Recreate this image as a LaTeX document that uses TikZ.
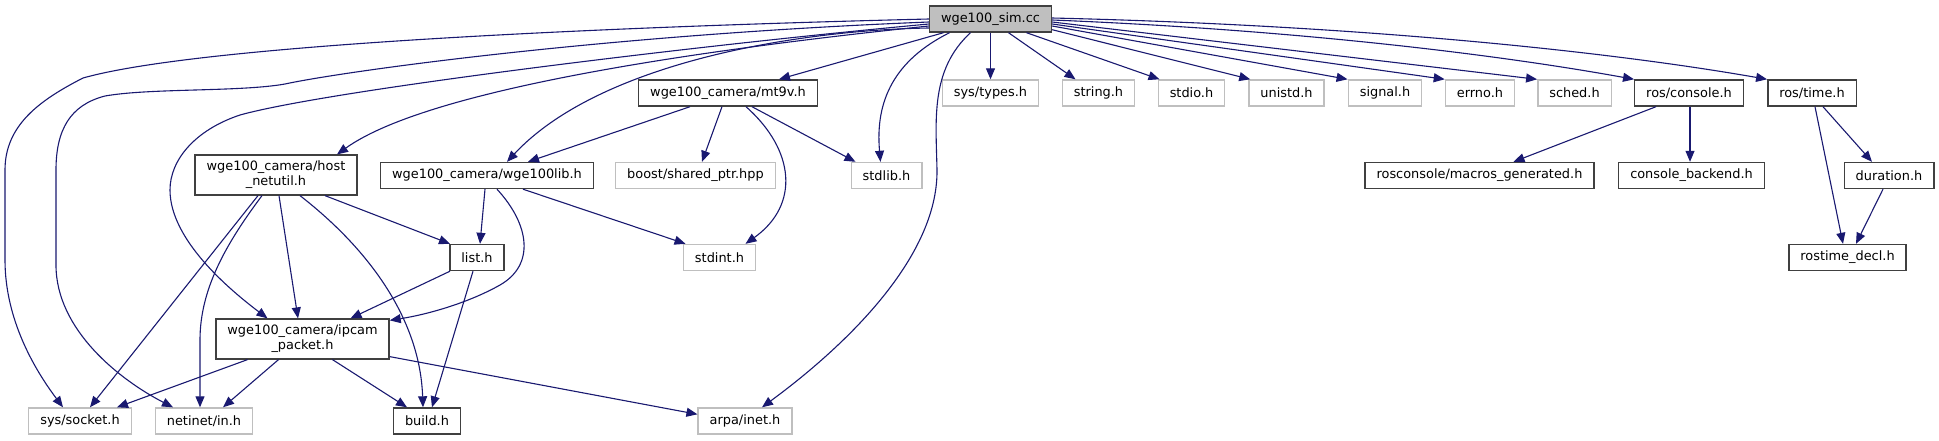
\documentclass[tikz,border=0pt]{standalone}
\usepackage{fontspec}
\setmainfont{DejaVu Sans}
\usetikzlibrary{arrows.meta}
\definecolor{edgeblue}{HTML}{191970}
\definecolor{boxgray}{HTML}{BFBFBF}
\definecolor{boxdark}{HTML}{404040}
\begin{document}
\begin{tikzpicture}[x=1pt,y=-1pt,
        every node/.style={font=\fontsize{12.9}{15}\selectfont,inner xsep=11.5pt,inner ysep=6pt,minimum height=26pt,line width=1.4pt},
        hdr/.style={draw=boxdark},
        ext/.style={draw=boxgray},
        edge/.style={edgeblue,line width=1.1pt,-{Triangle[length=11pt,width=9pt]}}]
        \useasboundingbox (0,0) rectangle (1939,440);
        % files
        \node[hdr,fill=boxgray] (sim) at (990.5,19) {wge100\_sim.cc};
        \node[hdr] (mtnine) at (728,93) {wge100\_camera/mt9v.h};
        \node[ext] (systypes) at (990.5,93) {sys/types.h};
        \node[ext] (string) at (1098.5,93) {string.h};
        \node[ext] (stdio) at (1191.5,93) {stdio.h};
        \node[ext] (unistd) at (1286.5,93) {unistd.h};
        \node[ext] (signal) at (1385,93) {signal.h};
        \node[ext] (errno) at (1480,93) {errno.h};
        \node[ext] (sched) at (1574.5,93) {sched.h};
        \node[hdr] (console) at (1689,93) {ros/console.h};
        \node[hdr] (time) at (1812,93) {ros/time.h};
        \node[hdr,align=center] (netutil) at (276,175) {wge100\_camera/host\\\_netutil.h};
        \node[hdr] (wgelib) at (487,175.5) {wge100\_camera/wge100lib.h};
        \node[ext] (sharedptr) at (695.5,175.5) {boost/shared\_ptr.hpp};
        \node[ext] (stdlib) at (886.5,175.5) {stdlib.h};
        \node[hdr] (macros) at (1479.5,175.5) {rosconsole/macros\_generated.h};
        \node[hdr] (backend) at (1691.5,175.5) {console\_backend.h};
        \node[hdr] (duration) at (1889,175.5) {duration.h};
        \node[hdr] (list) at (477,257.5) {list.h};
        \node[ext] (stdint) at (719.5,257.5) {stdint.h};
        \node[hdr] (decl) at (1847.5,257.5) {rostime\_decl.h};
        \node[hdr,align=center] (ipcam) at (302.5,339) {wge100\_camera/ipcam\\\_packet.h};
        \node[ext] (socket) at (80,421) {sys/socket.h};
        \node[ext] (netinet) at (204,421) {netinet/in.h};
        \node[hdr] (build) at (427,421) {build.h};
        \node[ext] (arpa) at (745,421) {arpa/inet.h};
        % wge100_sim.cc
        \draw[edge] (sim.west) .. controls (600,27) and (200,45) .. (83,78) .. controls (40,100) and (5,125) .. (5,170) -- (5,260) .. controls (5,320) and (35,370) .. ([xshift=-17pt]socket.north);
        \draw[edge] ([yshift=-3pt]sim.west) .. controls (600,35) and (340,72) .. (285,84) .. controls (240,92) and (150,88) .. (105,96) .. controls (70,105) and (56,130) .. (56,170) -- (56,265) .. controls (56,330) and (120,380) .. ([xshift=-31pt]netinet.north);
        \draw[edge] ([yshift=-5pt]sim.west) .. controls (700,45) and (330,90) .. (240,115) .. controls (195,130) and (170,160) .. (170,190) .. controls (170,240) and (230,290) .. ([xshift=-35pt]ipcam.north);
        \draw[edge] ([yshift=-7pt]sim.west) .. controls (650,55) and (420,95) .. ([xshift=61pt]netutil.north);
        \draw[edge] ([yshift=-9pt]sim.west) .. controls (800,30) and (600,62) .. ([xshift=20pt]wgelib.north);
        \draw[edge] ([xshift=-47pt]sim.south) -- ([xshift=51pt]mtnine.north);
        \draw[edge] ([xshift=-41pt]sim.south) .. controls (895,60) and (875,100) .. ([xshift=-6pt]stdlib.north);
        \draw[edge] ([xshift=-20pt]sim.south) .. controls (930,70) and (936,120) .. (937,170) .. controls (938,260) and (840,350) .. ([xshift=17pt]arpa.north);
        \draw[edge] (sim.south) -- (systypes.north);
        \draw[edge] ([xshift=18pt]sim.south) -- ([xshift=-23pt]string.north);
        \draw[edge] ([xshift=36pt]sim.south) -- ([xshift=-32pt]stdio.north);
        \draw[edge] ([yshift=3pt]sim.south east) -- ([xshift=2pt]unistd.north west);
        \draw[edge] ([yshift=-7pt]sim.east) -- (signal.north west);
        \draw[edge] ([yshift=-5pt]sim.east) -- (errno.north west);
        \draw[edge] ([yshift=-3pt]sim.east) -- (sched.north west);
        \draw[edge] ([yshift=-1pt]sim.east) .. controls (1300,30) and (1500,55) .. (console.north west);
        \draw[edge] ([yshift=1pt]sim.east) .. controls (1350,25) and (1600,50) .. (time.north west);
        % wge100_camera/mt9v.h
        \draw[edge] ([xshift=-38pt]mtnine.south) -- ([xshift=41pt]wgelib.north);
        \draw[edge] ([xshift=-6pt]mtnine.south) -- ([xshift=6.5pt]sharedptr.north);
        \draw[edge] ([xshift=24pt]mtnine.south) -- ([xshift=-31pt]stdlib.north);
        \draw[edge] ([xshift=18pt]mtnine.south) .. controls (795,150) and (800,205) .. ([xshift=26pt]stdint.north);
        % wge100_camera/host_netutil.h
        \draw[edge] ([xshift=49pt]netutil.south) -- ([xshift=-27pt]list.north);
        \draw[edge] ([xshift=3pt]netutil.south) -- ([xshift=-4.5pt]ipcam.north);
        \draw[edge] ([xshift=-18pt]netutil.south) -- ([xshift=10pt]socket.north);
        \draw[edge] ([xshift=-14pt]netutil.south) .. controls (225,245) and (200,290) .. (200,340) -- ([xshift=-4pt]netinet.north);
        \draw[edge] ([xshift=24pt]netutil.south) .. controls (370,250) and (420,320) .. ([xshift=-4pt]build.north);
        % wge100_camera/wge100lib.h
        \draw[edge] ([xshift=-2pt]wgelib.south) -- ([xshift=3pt]list.north);
        \draw[edge] ([xshift=10pt]wgelib.south) .. controls (530,225) and (535,265) .. (500,285) .. controls (470,302) and (430,314) .. ([yshift=-2pt]ipcam.north east);
        \draw[edge] ([xshift=36pt]wgelib.south) -- ([xshift=-34pt]stdint.north);
        % list.h
        \draw[edge] ([xshift=-27pt]list.south) -- ([xshift=48pt]ipcam.north);
        \draw[edge] ([xshift=-4pt]list.south) -- ([xshift=5pt]build.north);
        % wge100_camera/ipcam_packet.h
        \draw[edge] ([xshift=-55pt]ipcam.south) -- ([xshift=37pt]socket.north);
        \draw[edge] ([xshift=-24pt]ipcam.south) -- ([xshift=19pt]netinet.north);
        \draw[edge] ([xshift=30pt]ipcam.south) -- ([xshift=-20pt]build.north);
        \draw[edge] ([yshift=3pt]ipcam.south east) -- ([yshift=-7pt]arpa.north west);
        % ros
        \draw[edge] ([xshift=-33pt]console.south) -- ([xshift=34pt]macros.north);
        \draw[edge] ([xshift=1pt]console.south) -- ([xshift=-1.5pt]backend.north);
        \draw[edge] ([xshift=3pt]time.south) -- ([xshift=-4.5pt]decl.north);
        \draw[edge] ([xshift=11pt]time.south) -- ([xshift=-17pt]duration.north);
        \draw[edge] ([xshift=-6pt]duration.south) -- ([xshift=8.5pt]decl.north);
    \end{tikzpicture}
\end{document}
